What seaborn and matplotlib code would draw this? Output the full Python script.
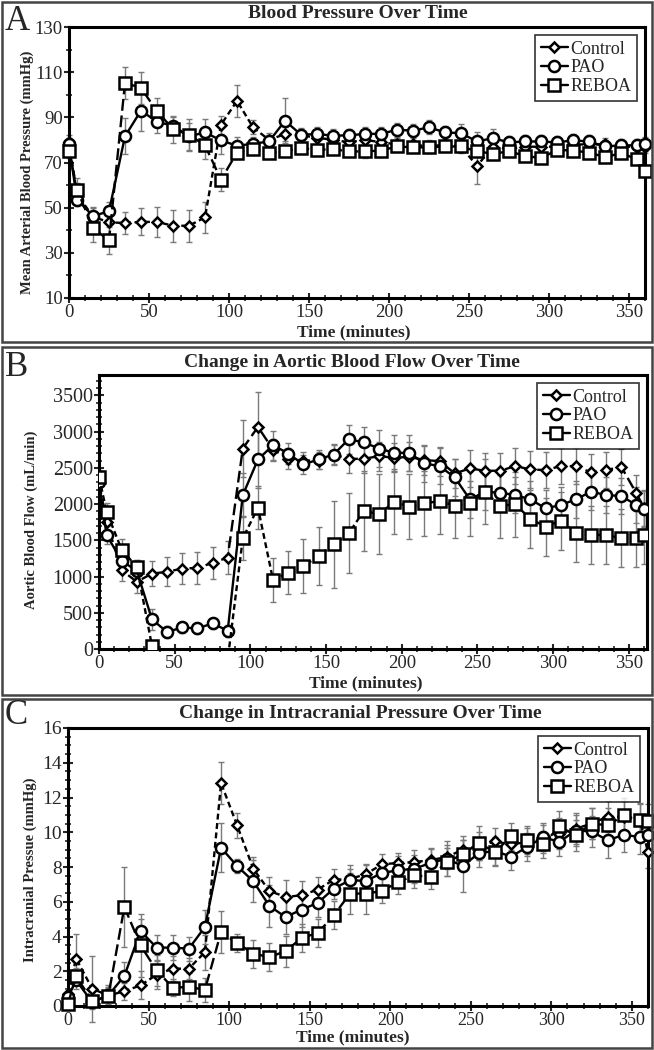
import matplotlib
matplotlib.use("Agg")
import pandas as pd
import matplotlib.pyplot as plt
import seaborn as sns
from matplotlib.lines import Line2D
from matplotlib.patches import Rectangle
from matplotlib.ticker import MultipleLocator

# sampling times (minutes)
TIME = [0, 5, 15, 25, 35, 45, 55, 65, 75, 85, 95, 105, 115, 125, 135, 145, 155,
        165, 175, 185, 195, 205, 215, 225, 235, 245, 255, 265, 275, 285, 295,
        305, 315, 325, 335, 345, 355, 360]
GROUPS = ["Control", "PAO", "REBOA"]

# A - mean arterial pressure (mmHg)
MAP_CONTROL = [79, 56, 46, 43.5, 43.2, 43.7, 43.7, 42, 42, 45.7, 86.7, 97.3, 85.6, 80, 82.6, 82, 81,
               80, 79, 80, 79, 78, 78, 77, 78, 77, 68.5, 77, 76, 77, 77, 77, 78, 78, 78, 77, 77, 77]
MAP_PAO = [78, 53.6, 46.3, 48.4, 81.6, 93, 88, 86.3, 81.6, 83.3, 79.8, 77.4, 78.3, 79.3, 88.5, 82.3, 82.6,
           81.9, 82, 82.7, 82.7, 84.5, 84.1, 85.6, 83.3, 83, 79.3, 80.8, 78.9, 79.3, 79.3, 78.9, 79.8, 79.3,
           77.1, 77.6, 77.6, 78.3]
MAP_REBOA = [75, 58, 41, 35.5, 105.3, 103, 92.7, 84.8, 82.3, 77.6, 62.4, 74.4, 76, 74.1, 74.9, 76.4, 75.6,
             75.9, 74.9, 74.9, 75.3, 77.1, 76.7, 76.7, 77.1, 77.1, 74.9, 73.9, 74.9, 73, 71.9, 75.6, 75.3,
             74.4, 72.4, 74.1, 71.5, 66.4]
MAP_CONTROL_SEM = [3, 5, 4, 5, 5, 6, 6.5, 7, 7, 7, 4, 7, 3, 3, 3, 3, 3, 3, 3, 3, 3, 3, 3, 3, 3, 3, 8,
                   3, 3, 3, 3, 3, 3, 3, 3, 3, 3, 3]
MAP_PAO_SEM = [3, 3, 4, 4, 8, 9, 5, 4, 6, 6, 6, 4, 3, 3, 10, 3, 3, 3, 3, 3, 3, 3, 3, 3, 3, 4, 4, 4,
               3, 3, 3, 3, 3, 3, 3, 3, 3, 3]
MAP_REBOA_SEM = [3, 5, 6, 6, 7, 7, 6, 6, 7, 6, 5, 3, 2, 2, 2, 2, 2, 2, 2, 3, 3, 2, 2, 2, 2, 2, 2, 2,
                 2, 2, 2, 2, 2, 2, 2, 2, 2, 2]

# B - aortic blood flow (mL/min)
FLOW_CONTROL = [2300, 1750, 1087, 927, 1041, 1064, 1110, 1119, 1188, 1261, 2766, 3064, 2750, 2628, 2600,
                2600, 2683, 2624, 2624, 2661, 2638, 2651, 2606, 2592, 2422, 2491, 2459, 2459, 2523, 2477,
                2468, 2523, 2523, 2436, 2468, 2514, 2147, 1950]
FLOW_PAO = [2298, 1573, 1216, 1078, 408, 234, 298, 284, 353, 252, 2124, 2615, 2812, 2697, 2546, 2615,
            2683, 2895, 2849, 2766, 2706, 2706, 2560, 2523, 2367, 2064, 2170, 2156, 2124, 2064, 1940,
            1986, 2064, 2170, 2124, 2110, 1986, 1927]
FLOW_REBOA = [2376, 1895, 1367, 1133, 41, -150, -150, -150, -150, -150, 1528, 1950, 950, 1055, 1142,
              1280, 1445, 1596, 1908, 1858, 2032, 1963, 2009, 2041, 1977, 2009, 2170, 1977, 1995, 1794,
              1688, 1771, 1606, 1573, 1573, 1528, 1528, 1573]
FLOW_CONTROL_SEM = [100, 150, 150, 150, 170, 200, 220, 220, 220, 230, 390, 480, 150, 150, 120, 120, 130,
                    200, 200, 200, 200, 200, 200, 200, 200, 250, 250, 250, 250, 250, 250, 250, 250, 250,
                    250, 250, 250, 250]
FLOW_PAO_SEM = [100, 120, 150, 150, 150, 80, 80, 80, 80, 80, 300, 400, 200, 150, 130, 130, 150, 200, 220,
                250, 250, 250, 250, 250, 250, 250, 250, 250, 250, 250, 250, 250, 250, 250, 250, 250,
                250, 250]
FLOW_REBOA_SEM = [100, 120, 150, 100, 50, 0, 0, 0, 0, 0, 300, 300, 300, 300, 370, 400, 600, 550, 550, 550,
                  450, 450, 450, 450, 450, 450, 450, 450, 450, 400, 400, 400, 400, 400, 400, 400, 400, 400]

# C - intracranial pressure (mmHg)
ICP_CONTROL = [0.7, 2.73, 1.0, 0.6, 0.85, 1.19, 1.8, 2.15, 2.15, 3.1, 12.83, 10.39, 7.9, 6.62, 6.28, 6.37,
               6.7, 7.27, 7.3, 7.6, 8.16, 8.23, 8.28, 8.4, 8.57, 9.0, 9.2, 9.47, 9.3, 9.44, 9.6, 9.92,
               10.2, 10.5, 10.9, 10.9, 10.7, 8.86]
ICP_PAO = [0.5, 1.48, 0.23, 0.61, 1.73, 4.32, 3.36, 3.36, 3.3, 4.55, 9.11, 8.05, 7.18, 5.76, 5.12, 5.55,
           5.93, 6.76, 7.24, 7.2, 7.66, 7.81, 7.9, 8.23, 8.48, 8.05, 8.8, 8.92, 8.6, 9.15, 9.72, 9.44,
           10.1, 10.05, 9.53, 9.86, 9.72, 9.82]
ICP_REBOA = [0.13, 1.71, 0.3, 0.55, 5.7, 3.49, 2.05, 1.06, 1.09, 0.94, 4.26, 3.63, 3.01, 2.82, 3.15, 3.92,
             4.2, 5.22, 6.47, 6.47, 6.62, 7.14, 7.52, 7.43, 8.28, 8.73, 9.38, 8.86, 9.76, 9.57, 9.3,
             10.34, 9.82, 10.5, 10.4, 10.97, 10.7, 10.64]
ICP_CONTROL_SEM = [0.3, 1.4, 1.9, 0.5, 0.5, 0.8, 0.8, 0.7, 0.6, 1.0, 1.2, 0.7, 0.7, 0.8, 1.0, 0.8, 0.7,
                   0.6, 0.6, 0.6, 0.6, 0.6, 0.7, 0.7, 0.7, 0.8, 0.8, 0.8, 0.8, 0.8, 0.8, 0.9, 0.9, 0.9,
                   0.9, 0.9, 0.9, 0.9]
ICP_PAO_SEM = [0.3, 0.5, 0.3, 0.6, 0.8, 0.7, 0.7, 0.7, 0.7, 1.0, 1.4, 0.4, 1.2, 1.2, 1.0, 1.0, 0.8, 0.6,
               0.9, 0.9, 0.7, 0.8, 0.8, 0.8, 1.0, 1.5, 0.8, 0.8, 0.8, 0.8, 0.8, 0.8, 0.9, 0.9, 1.0, 1.0,
               1.0, 1.0]
ICP_REBOA_SEM = [0.2, 0.5, 0.5, 0.5, 2.3, 1.8, 0.9, 0.5, 0.8, 0.7, 1.2, 0.5, 0.8, 0.8, 0.9, 0.8, 0.8,
                 0.8, 1.2, 1.2, 0.7, 0.7, 0.7, 0.7, 0.8, 0.8, 1.0, 0.8, 0.8, 0.8, 0.8, 0.9, 0.9, 0.9,
                 1.0, 1.0, 1.0, 1.0]

sns.set_style("ticks")
plt.rcParams["font.family"] = ["Liberation Serif", "DejaVu Serif"]

MARKERS = {"Control": "D", "PAO": "o", "REBOA": "s"}
MSIZE = {"Control": 5.5, "PAO": 8, "REBOA": 8}
SHORT = (0, (2.5, 1.5))
LONG = (0, (5, 2))

W, H = 654, 1050
fig = plt.figure(figsize=(W / 100, H / 100), dpi=100)


def fx(px):
    return px / W


def fy(py):
    return 1 - py / H


def draw_panel(ax_px, means, sems, styles, ylim, ymaj, yoff, ymin, xmax, clip,
               letter, letter_px, title, title_px, ylabel, ylabel_px, xlabel_px,
               yfs, xfs):
    l, t, r, b = ax_px
    ax = fig.add_axes([fx(l), fy(b), fx(r) - fx(l), fy(t) - fy(b)])
    for g, m, s in zip(GROUPS, means, sems):
        ax.errorbar(TIME, m, yerr=s, fmt="none", ecolor="#7a7a7a", elinewidth=1,
                    capsize=2.5, capthick=1, zorder=1, clip_on=clip)
        df = pd.DataFrame({"time": TIME, "value": m})
        sns.lineplot(data=df, x="time", y="value", ax=ax, color="black", lw=1.7,
                     linestyle=styles[g], marker=MARKERS[g], markersize=MSIZE[g],
                     markerfacecolor="white", markeredgecolor="black", mew=1.8,
                     errorbar=None, legend=False, zorder=3, clip_on=clip)
    ax.set_xlim(0, xmax)
    ax.set_ylim(*ylim)
    ax.xaxis.set_major_locator(MultipleLocator(50))
    ax.xaxis.set_minor_locator(MultipleLocator(10))
    ax.yaxis.set_major_locator(MultipleLocator(ymaj, offset=yoff))
    ax.yaxis.set_minor_locator(MultipleLocator(ymin))
    ax.tick_params(which="major", direction="inout", length=7, width=1.5, pad=1)
    ax.tick_params(which="minor", direction="inout", length=4, width=1.2)
    ax.tick_params(axis="y", labelsize=yfs)
    ax.tick_params(axis="x", labelsize=xfs)
    for sp in ax.spines.values():
        sp.set_linewidth(2.2)
        sp.set_color("black")
    ax.set_xlabel("")
    ax.set_ylabel("")
    handles = [Line2D([], [], color="black", lw=1.7, marker=MARKERS[g], markersize=MSIZE[g],
                      markerfacecolor="white", markeredgecolor="black", mew=1.8)
               for g in GROUPS]
    leg = ax.legend(handles, GROUPS, loc="upper right", fontsize=13, frameon=True,
                    fancybox=False, handlelength=1.5, handletextpad=0.15,
                    labelspacing=0.1, borderpad=0.3, borderaxespad=0.45)
    leg.get_frame().set_edgecolor("black")
    leg.get_frame().set_linewidth(1.2)

    fig.text(fx(letter_px[0]), fy(letter_px[1]), letter, fontsize=25, ha="center", va="center")
    fig.text(fx(title_px[0]), fy(title_px[1]), title, fontsize=14, fontweight="bold",
             ha="center", va="center")
    fig.text(fx(ylabel_px[0]), fy(ylabel_px[1]), ylabel, fontsize=10.5, fontweight="bold",
             rotation=90, ha="center", va="center")
    fig.text(fx(xlabel_px[0]), fy(xlabel_px[1]), "Time (minutes)", fontsize=12.5,
             fontweight="bold", ha="center", va="center")
    return ax


# panel frames
for top, bot in [(2, 342), (347, 695), (699, 1048)]:
    fig.add_artist(Rectangle((fx(2), fy(bot)), fx(652) - fx(2), fy(top) - fy(bot),
                             transform=fig.transFigure, fill=False, ec="#444444", lw=1.8))

draw_panel((69, 27, 645, 298), [MAP_CONTROL, MAP_PAO, MAP_REBOA],
           [MAP_CONTROL_SEM, MAP_PAO_SEM, MAP_REBOA_SEM],
           {"Control": SHORT, "PAO": "-", "REBOA": LONG},
           (10, 130), 20, 10, 10, 360, False,
           "A", (17, 21), "Blood Pressure Over Time", (358, 14),
           "Mean Arterial Blood Pressure (mmHg)", (27, 172), (354, 332), 13.5, 13.5)

draw_panel((99, 375, 647, 649), [FLOW_CONTROL, FLOW_PAO, FLOW_REBOA],
           [FLOW_CONTROL_SEM, FLOW_PAO_SEM, FLOW_REBOA_SEM],
           {"Control": LONG, "PAO": "-", "REBOA": SHORT},
           (0, 3780), 500, 0, 100, 362, True,
           "B", (17, 367), "Change in Aortic Blood Flow Over Time", (352, 362),
           "Aortic Blood Flow (mL/min)", (31, 520), (366, 683), 14.5, 13.5)

draw_panel((68, 728, 648, 1006), [ICP_CONTROL, ICP_PAO, ICP_REBOA],
           [ICP_CONTROL_SEM, ICP_PAO_SEM, ICP_REBOA_SEM],
           {"Control": SHORT, "PAO": "-", "REBOA": LONG},
           (0, 16), 2, 0, 0.5, 360, False,
           "C", (16, 715), "Change in Intracranial Pressure Over Time", (360, 713),
           "Intracranial Pressue (mmHg)", (30, 870), (353, 1037), 14, 13)

fig.savefig("out.png", dpi=100)
